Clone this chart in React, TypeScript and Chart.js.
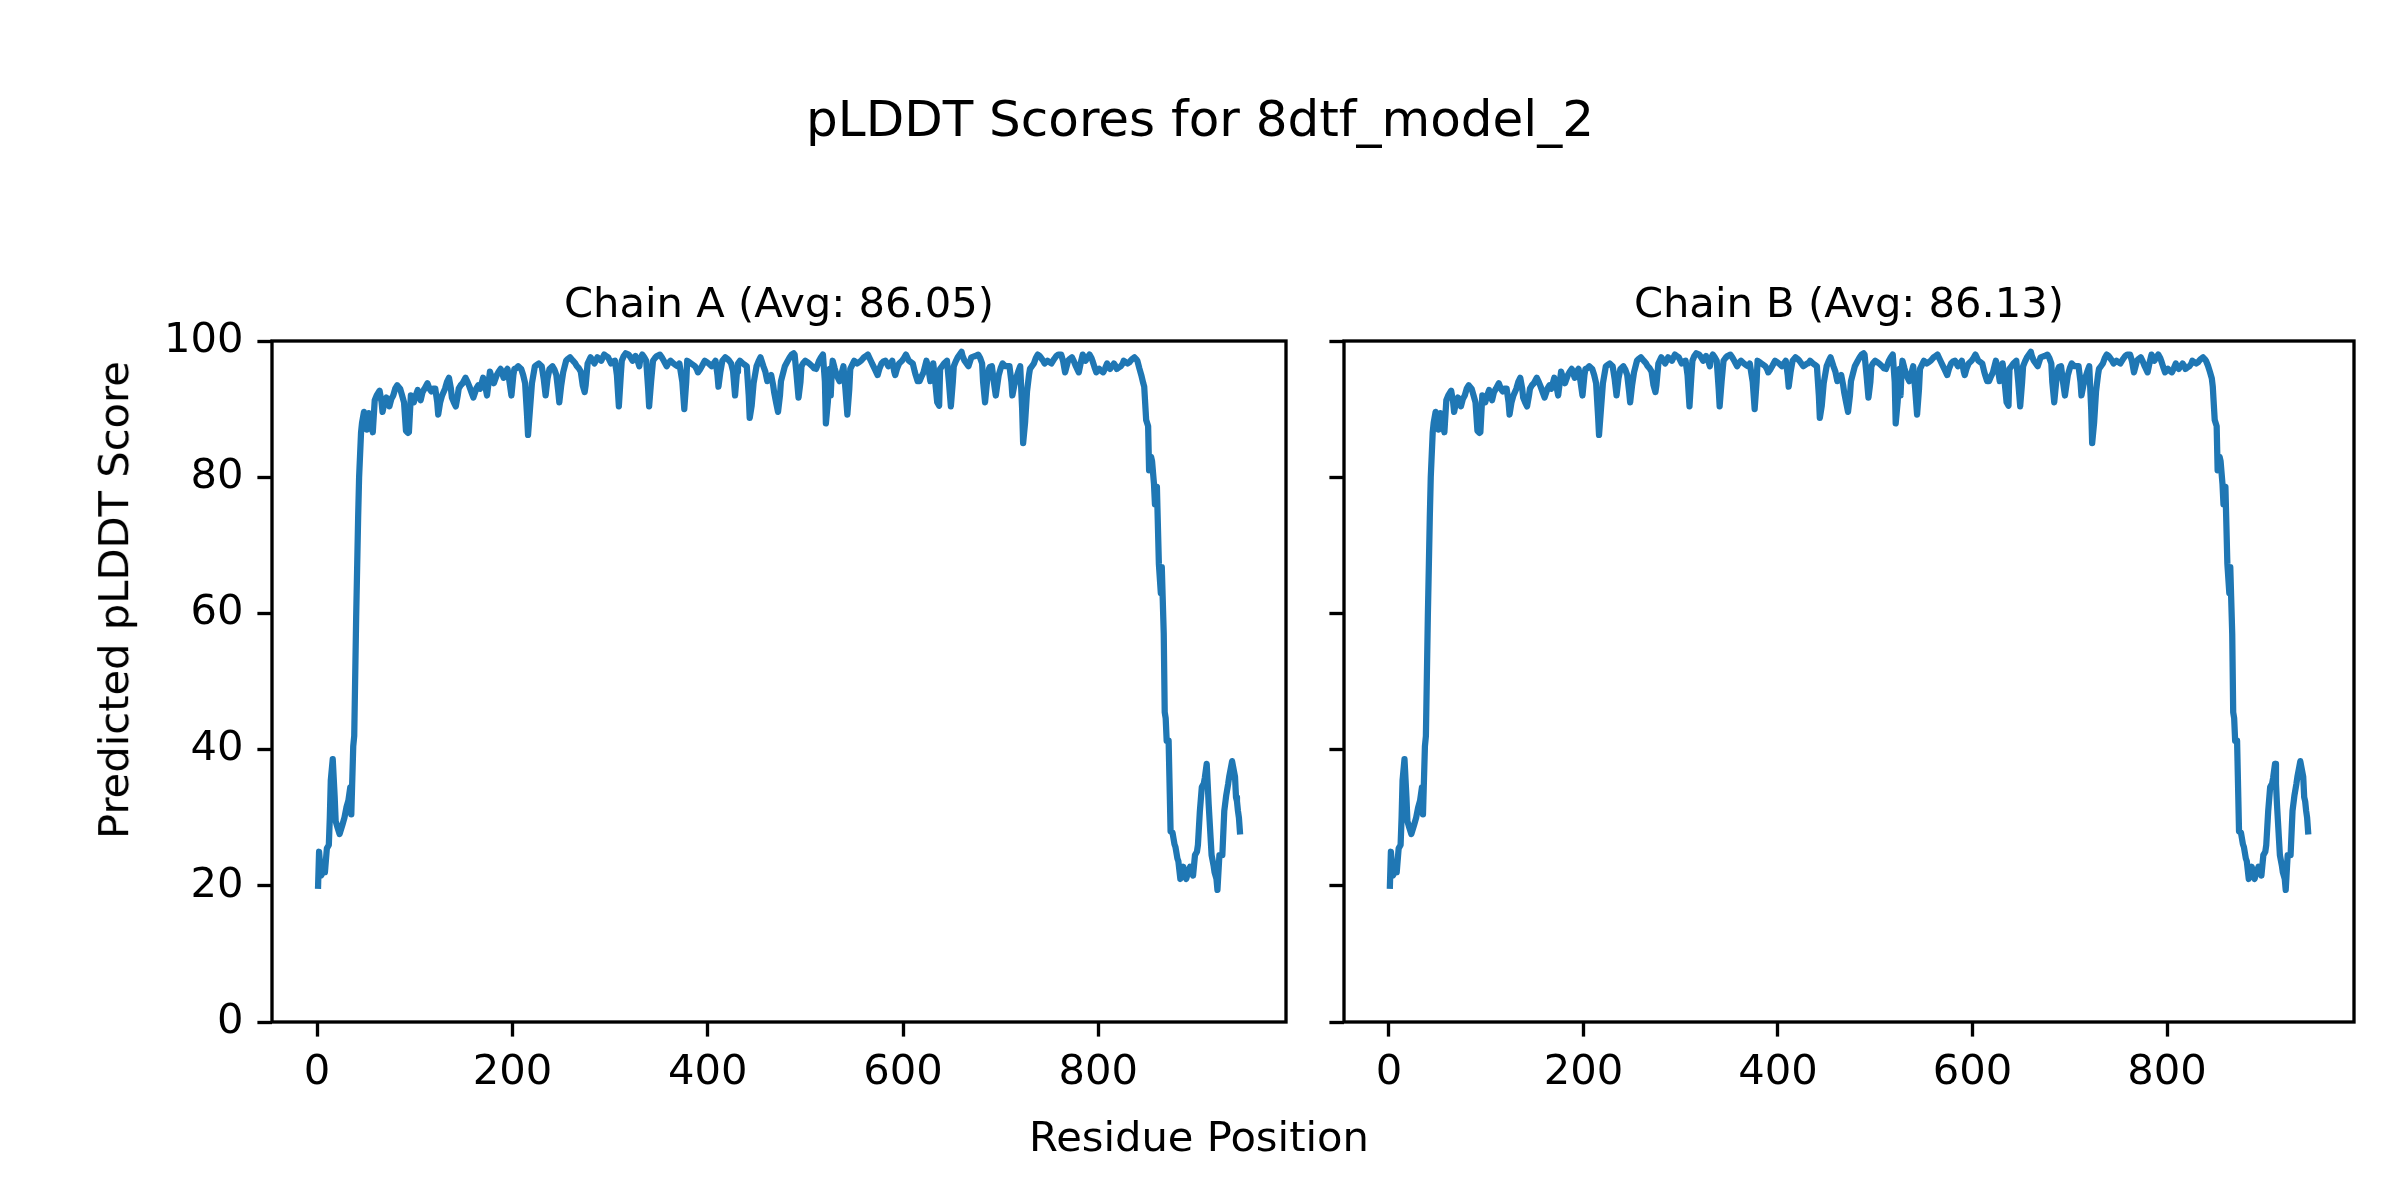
import React, { useEffect, useRef } from 'react';
import { Chart, registerables } from 'chart.js';

Chart.register(...registerables);

const figureTitle = 'pLDDT Scores for 8dtf_model_2';
const chainTitles = ['Chain A (Avg: 86.05)', 'Chain B (Avg: 86.13)'];
const xAxisLabel = 'Residue Position';
const yAxisLabel = 'Predicted pLDDT Score';
const xTickValues = [0, 200, 400, 600, 800];
const yTickValues = [0, 20, 40, 60, 80, 100];

const residuePositions = [
  1, 2, 4, 6, 8, 10, 12, 13, 14, 16,
  18, 19, 21, 23, 26, 28, 30, 32, 34, 35,
  37, 38, 40, 42, 43, 45, 46, 48, 50, 51,
  53, 55, 57, 59, 61, 64, 66, 67, 69, 71,
  74, 76, 78, 80, 82, 85, 87, 89, 91, 93,
  94, 96, 99, 101, 103, 106, 108, 110, 113, 115,
  117, 119, 121, 123, 124, 126, 128, 131, 133, 135,
  137, 138, 140, 142, 144, 145, 147, 149, 152, 154,
  156, 158, 160, 163, 165, 167, 170, 172, 174, 177,
  179, 181, 184, 186, 188, 191, 193, 195, 197, 199,
  201, 202, 204, 206, 209, 211, 213, 215, 216, 218,
  220, 223, 225, 227, 230, 232, 234, 236, 238, 241,
  243, 245, 247, 248, 250, 252, 255, 257, 259, 262,
  264, 266, 268, 270, 272, 274, 275, 277, 280, 282,
  284, 287, 289, 291, 294, 296, 298, 301, 303, 305,
  307, 309, 311, 312, 314, 316, 319, 321, 323, 326,
  328, 330, 331, 333, 335, 337, 339, 340, 342, 344,
  346, 348, 351, 353, 355, 358, 360, 362, 365, 367,
  369, 371, 374, 376, 378, 379, 381, 383, 387, 389,
  390, 392, 394, 397, 399, 401, 404, 406, 408, 410,
  411, 413, 415, 418, 420, 422, 424, 426, 428, 430,
  431, 433, 436, 438, 440, 442, 443, 445, 447, 450,
  452, 454, 457, 459, 461, 463, 465, 467, 468, 470,
  472, 474, 475, 477, 479, 482, 484, 486, 488, 489,
  491, 493, 495, 496, 498, 500, 502, 504, 507, 509,
  511, 514, 516, 518, 520, 521, 523, 525, 526, 527,
  528, 530, 532, 535, 537, 539, 541, 543, 545, 546,
  548, 550, 553, 555, 557, 560, 562, 564, 567, 569,
  571, 574, 576, 578, 580, 582, 585, 587, 589, 591,
  592, 594, 596, 599, 601, 603, 606, 608, 610, 612,
  613, 615, 617, 619, 621, 624, 626, 628, 630, 631,
  633, 635, 637, 638, 640, 642, 645, 647, 649, 651,
  652, 654, 656, 658, 660, 661, 663, 665, 667, 670,
  672, 674, 677, 679, 681, 682, 684, 686, 688, 689,
  691, 693, 695, 697, 698, 700, 702, 705, 707, 709,
  711, 712, 714, 716, 718, 720, 722, 723, 725, 727,
  729, 730, 732, 734, 736, 738, 740, 741, 743, 745,
  748, 750, 752, 755, 757, 759, 762, 764, 766, 768,
  769, 771, 773, 775, 777, 780, 782, 784, 786, 787,
  789, 791, 793, 794, 796, 798, 801, 803, 805, 807,
  809, 810, 812, 814, 816, 818, 819, 821, 823, 825,
  826, 828, 830, 832, 833, 835, 837, 839, 840, 842,
  844, 846, 847, 849, 851, 852, 854, 855, 857, 858,
  860, 862, 864, 865, 867, 868, 869, 870, 872, 874,
  876, 878, 879, 881, 882, 884, 886, 887, 889, 890,
  892, 894, 896, 897, 899, 901, 902, 904, 906, 908,
  909, 911, 912, 913, 915, 916, 918, 919, 921, 922,
  924, 926, 927, 929, 931, 933, 934, 936, 937, 938,
  940, 941, 942, 943, 944, 945,
];

const chainAScores = [
  20, 25, 21.5, 22, 22, 25.5, 26, 30, 35.5, 38.6,
  33, 29.5, 28.5, 27.6, 29, 30, 31.5, 32.5, 34.5, 30.5,
  40.5, 42, 59.5, 74, 80, 86.6, 88, 89.6, 88.5, 87,
  89.4, 88.5, 86.6, 91.3, 92, 92.7, 91, 89.6, 91, 91.7,
  90.4, 91.5, 92, 93, 93.5, 93, 92, 91, 86.8, 86.5,
  86.6, 92, 91, 92, 92.8, 91.3, 92.5, 93, 93.8, 93,
  92.6, 93, 93, 91, 89.2, 91, 92, 93, 94, 94.6,
  93, 91.7, 91, 90.4, 92, 93, 93.5, 93.8, 94.6, 94,
  93.3, 92.5, 91.7, 93, 93.5, 93, 94.6, 93.5, 92, 95.5,
  94.5, 93.8, 95, 95.5, 95.9, 94.6, 95.5, 95.9, 94, 92,
  95, 95.9, 96, 96.3, 95.9, 95, 93.8, 89, 86.2, 90,
  93.8, 96.3, 96.5, 96.7, 96.3, 94.5, 92, 94.5, 95.9, 96.3,
  95.8, 95, 92.5, 91, 93.5, 95.4, 97.1, 97.4, 97.6, 97.1,
  96.8, 96.3, 96, 95.5, 93.5, 92.5, 93.5, 96.7, 97.6, 97.2,
  96.7, 97.6, 97.4, 97.1, 98, 97.8, 97.6, 96.7, 97, 97.1,
  95, 90.4, 95, 97.1, 97.8, 98.2, 98, 97.6, 97.1, 97.8,
  97.2, 96.3, 97.4, 98, 97.6, 97.1, 93, 90.4, 94, 97.1,
  97.5, 97.8, 98, 97.6, 97.1, 96.3, 96.8, 97.1, 96.7, 96.5,
  96.3, 96.7, 94, 90, 94, 97.1, 96.9, 96.7, 96.3, 95.8,
  95.4, 95.8, 96.3, 97.1, 96.9, 96.7, 96.3, 96.7, 97.1, 95,
  93.3, 95.5, 97.1, 97.6, 97.4, 97.1, 96.7, 95.5, 92, 95.5,
  96.7, 97.1, 96.7, 96.5, 96.3, 92, 88.7, 90.5, 93.8, 96.3,
  97, 97.6, 96.3, 95.5, 94.1, 94.5, 95, 93.5, 92.5, 91,
  89.6, 92, 94.1, 95.2, 96.3, 97.1, 97.6, 98, 98.2, 98,
  95, 91.7, 94, 96.3, 96.8, 97.1, 96.9, 96.7, 96.3, 96,
  95.9, 97.1, 97.6, 98, 94, 87.9, 91, 95.9, 92, 95.5,
  97.1, 96, 95, 94.1, 95.2, 96.3, 93, 89.2, 93, 95.9,
  96.5, 97.1, 96.7, 96.9, 97.1, 97.6, 97.8, 98, 97.1, 96.5,
  95.9, 95, 96, 96.7, 97, 97.1, 96.3, 96.7, 97.1, 95.5,
  95, 96, 96.7, 97.1, 97.5, 98, 97.1, 96.9, 96.7, 95.5,
  95, 94.1, 94.1, 94.8, 95.4, 97.1, 96, 94.1, 95.5, 96.7,
  94, 91, 90.5, 95.9, 96.3, 96.7, 97.1, 94, 90.4, 94,
  96.3, 97, 97.6, 98, 98.4, 97.8, 97.1, 96.7, 96.3, 97.6,
  97.7, 97.8, 98, 97.5, 96.7, 94, 91, 94, 95.9, 96.2,
  96.3, 94, 92, 94, 95, 96, 96.7, 96.3, 96.3, 96.3,
  94, 92, 93.5, 94.6, 95.5, 96.3, 90, 85, 88, 92.6,
  95, 95.9, 96.3, 96.7, 97.5, 98, 97.8, 97.6, 97.2, 96.7,
  97.1, 96.9, 96.7, 97.4, 97.8, 98, 98, 97, 95.4, 96.5,
  97.1, 97.4, 97.6, 97, 96.3, 95.4, 96.8, 98, 97.5, 97.1,
  97.6, 98, 97.5, 97.1, 96.2, 95.4, 95.9, 95.6, 95.4, 96,
  96.7, 96.3, 95.9, 96.3, 96.7, 96.3, 95.9, 96.1, 96.3, 96.7,
  97.1, 96.9, 96.7, 96.9, 97.1, 97.4, 97.6, 97.3, 97.1, 96,
  95, 93.8, 93.3, 88.4, 87.5, 81, 83, 82.4, 79, 76,
  78.6, 67.3, 63, 66.8, 57, 45.5, 44.6, 41.3, 41.3, 28,
  27.8, 26.1, 25.7, 24, 23.6, 21, 22, 22.8, 21.5, 21,
  22, 22.8, 22, 21.5, 24.5, 25, 26, 31, 34.5, 35,
  35.8, 37.9, 35, 32, 27, 24.5, 23, 22, 21, 19.4,
  24.5, 24.5, 24.5, 31, 33.3, 35, 36, 37.5, 38.3, 37.5,
  36, 33, 32.4, 31, 30, 28,
];

const chainBScores = [
  20, 25, 21.5, 22, 22, 25.5, 26, 30, 35.5, 38.6,
  33, 29.5, 28.5, 27.6, 29, 30, 31.5, 32.5, 34.5, 30.5,
  40.5, 42, 59.5, 74, 80, 86.6, 88, 89.6, 88.5, 87,
  89.4, 88.5, 86.6, 91.3, 92, 92.7, 91, 89.6, 91, 91.7,
  90.4, 91.5, 92, 93, 93.5, 93, 92, 91, 86.8, 86.5,
  86.6, 92, 91, 92, 92.8, 91.3, 92.5, 93, 93.8, 93,
  92.6, 93, 93, 91, 89.2, 91, 92, 93, 94, 94.6,
  93, 91.7, 91, 90.4, 92, 93, 93.5, 93.8, 94.6, 94,
  93.3, 92.5, 91.7, 93, 93.5, 93, 94.6, 93.5, 92, 95.5,
  94.5, 93.8, 95, 95.5, 95.9, 94.6, 95.5, 95.9, 94, 92,
  95, 95.9, 96, 96.3, 95.9, 95, 93.8, 89, 86.2, 90,
  93.8, 96.3, 96.5, 96.7, 96.3, 94.5, 92, 94.5, 95.9, 96.3,
  95.8, 95, 92.5, 91, 93.5, 95.4, 97.1, 97.4, 97.6, 97.1,
  96.8, 96.3, 96, 95.5, 93.5, 92.5, 93.5, 96.7, 97.6, 97.2,
  96.7, 97.6, 97.4, 97.1, 98, 97.8, 97.6, 96.7, 97, 97.1,
  95, 90.4, 95, 97.1, 97.8, 98.2, 98, 97.6, 97.1, 97.8,
  97.2, 96.3, 97.4, 98, 97.6, 97.1, 93, 90.4, 94, 97.1,
  97.5, 97.8, 98, 97.6, 97.1, 96.3, 96.8, 97.1, 96.7, 96.5,
  96.3, 96.7, 94, 90, 94, 97.1, 96.9, 96.7, 96.3, 95.8,
  95.4, 95.8, 96.3, 97.1, 96.9, 96.7, 96.3, 96.7, 97.1, 95,
  93.3, 95.5, 97.1, 97.6, 97.4, 97.1, 96.7, 96.3, 96.5, 96.7,
  96.7, 97.1, 96.7, 96.5, 96.3, 92, 88.7, 90.5, 93.8, 96.3,
  97, 97.6, 96.3, 95.5, 94.1, 94.5, 95, 93.5, 92.5, 91,
  89.6, 92, 94.1, 95.2, 96.3, 97.1, 97.6, 98, 98.2, 98,
  95, 91.7, 94, 96.3, 96.8, 97.1, 96.9, 96.7, 96.3, 96,
  95.9, 97.1, 97.6, 98, 94, 87.9, 91, 95.9, 92, 95.5,
  97.1, 96, 95, 94.1, 95.2, 96.3, 93, 89.2, 93, 95.9,
  96.5, 97.1, 96.7, 96.9, 97.1, 97.6, 97.8, 98, 97.1, 96.5,
  95.9, 95, 96, 96.7, 97, 97.1, 96.3, 96.7, 97.1, 95.5,
  95, 96, 96.7, 97.1, 97.5, 98, 97.1, 96.9, 96.7, 95.5,
  95, 94.1, 94.1, 94.8, 95.4, 97.1, 96, 94.1, 95.5, 96.7,
  94, 91, 90.5, 95.9, 96.3, 96.7, 97.1, 94, 90.4, 94,
  96.3, 97, 97.6, 98, 98.4, 97.8, 97.1, 96.7, 96.3, 97.6,
  97.7, 97.8, 98, 97.5, 96.7, 94, 91, 94, 95.9, 96.2,
  96.3, 94, 92, 94, 95, 96, 96.7, 96.3, 96.3, 96.3,
  94, 92, 93.5, 94.6, 95.5, 96.3, 90, 85, 88, 92.6,
  95, 95.9, 96.3, 96.7, 97.5, 98, 97.8, 97.6, 97.2, 96.7,
  97.1, 96.9, 96.7, 97.4, 97.8, 98, 98, 97, 95.4, 96.5,
  97.1, 97.4, 97.6, 97, 96.3, 95.4, 96.8, 98, 97.5, 97.1,
  97.6, 98, 97.5, 97.1, 96.2, 95.4, 95.9, 95.6, 95.4, 96,
  96.7, 96.3, 95.9, 96.3, 96.7, 96.3, 95.9, 96.1, 96.3, 96.7,
  97.1, 96.9, 96.7, 96.9, 97.1, 97.4, 97.6, 97.3, 97.1, 96.4,
  95.5, 94.5, 93.3, 88.4, 87.5, 81, 83, 82.4, 79, 76,
  78.6, 67.3, 63, 66.8, 57, 45.5, 44.6, 41.3, 41.3, 28,
  27.8, 26.1, 25.7, 24, 23.6, 21, 22, 22.8, 21.5, 21,
  22, 22.8, 22, 21.5, 24.5, 25, 26, 31, 34.5, 35,
  35.8, 37.9, 35, 32, 27, 24.5, 23, 22, 21, 19.4,
  24.5, 24.5, 24.5, 31, 33.3, 35, 36, 37.5, 38.3, 37.5,
  36, 33, 32.4, 31, 30, 28,
];

const FONT = 'DejaVu Sans';
const TICK_PX = 41.67;
const LINE_PX = 3.33;
const TICK_LEN = 14.6;

const framePlugin = {
  id: 'axesFrame',
  afterDraw(chart: any) {
    const { ctx, chartArea: a } = chart;
    ctx.save();
    ctx.strokeStyle = '#000000';
    ctx.lineWidth = LINE_PX;
    ctx.lineJoin = 'miter';
    ctx.strokeRect(a.left, a.top, a.right - a.left, a.bottom - a.top);
    ctx.restore();
  },
};

function buildConfig(scores: number[], showYLabels: boolean, yAxisWidth: number, rightPad: number) {
  const first = residuePositions[0];
  const last = residuePositions[residuePositions.length - 1];
  const margin = (last - first) * 0.05;
  return {
    type: 'line' as const,
    data: {
      datasets: [
        {
          data: residuePositions.map((x, i) => ({ x, y: scores[i] })),
          borderColor: '#1f77b4',
          borderWidth: 6.25,
          pointRadius: 0,
          tension: 0,
          fill: false,
          borderJoinStyle: 'round' as const,
          borderCapStyle: 'square' as const,
        },
      ],
    },
    options: {
      animation: false as const,
      responsive: false,
      maintainAspectRatio: false,
      devicePixelRatio: 1,
      layout: { padding: { left: 0, top: 341, right: rightPad, bottom: 58 } },
      plugins: {
        legend: { display: false },
        tooltip: { enabled: false },
        title: { display: false },
      },
      scales: {
        x: {
          type: 'linear' as const,
          min: first - margin,
          max: last + margin,
          border: { display: false },
          grid: {
            drawOnChartArea: false,
            drawTicks: true,
            tickLength: TICK_LEN,
            tickWidth: LINE_PX,
            tickColor: '#000000',
          },
          ticks: {
            color: '#000000',
            font: { family: FONT, size: TICK_PX },
            padding: 12,
            maxRotation: 0,
            autoSkip: false,
          },
          afterBuildTicks: (scale: any) => {
            scale.ticks = xTickValues.map((v) => ({ value: v }));
          },
          afterFit: (scale: any) => {
            scale.height = 120;
          },
        },
        y: {
          type: 'linear' as const,
          min: 0,
          max: 100,
          border: { display: false },
          grid: {
            drawOnChartArea: false,
            drawTicks: true,
            tickLength: TICK_LEN,
            tickWidth: LINE_PX,
            tickColor: '#000000',
          },
          ticks: {
            display: showYLabels,
            color: '#000000',
            font: { family: FONT, size: TICK_PX },
            padding: 14,
          },
          afterBuildTicks: (scale: any) => {
            scale.ticks = yTickValues.map((v) => ({ value: v }));
          },
          afterFit: (scale: any) => {
            scale.width = yAxisWidth;
          },
        },
      },
    },
    plugins: [framePlugin],
  };
}

function Panel(props: { scores: number[]; showYLabels: boolean; left: number; width: number; yAxisWidth: number; rightPad: number }) {
  const ref = useRef<HTMLCanvasElement | null>(null);
  useEffect(() => {
    if (!ref.current) return;
    const chart = new Chart(ref.current, buildConfig(props.scores, props.showYLabels, props.yAxisWidth, props.rightPad) as any);
    return () => chart.destroy();
  }, []);
  return (
    <canvas
      ref={ref}
      width={props.width}
      height={1200}
      style={{ position: 'absolute', left: props.left, top: 0, width: props.width, height: 1200 }}
    />
  );
}

const textBase: React.CSSProperties = {
  position: 'absolute',
  fontFamily: FONT,
  color: '#000000',
  whiteSpace: 'nowrap',
  lineHeight: 1,
};

export default function App() {
  useEffect(() => {
    document.body.style.margin = '0';
  }, []);
  return (
    <div style={{ position: 'absolute', left: 0, top: 0, width: 2400, height: 1200, background: '#ffffff', overflow: 'hidden' }}>
      <Panel scores={chainAScores} showYLabels={true} left={0} width={1320} yAxisWidth={272} rightPad={34} />
      <Panel scores={chainBScores} showYLabels={false} left={1320} width={1080} yAxisWidth={24} rightPad={46} />
      <div style={{ ...textBase, fontSize: 50, left: 1200, top: 119, transform: 'translate(-50%, -50%)' }}>{figureTitle}</div>
      <div style={{ ...textBase, fontSize: TICK_PX, left: 779, top: 303, transform: 'translate(-50%, -50%)' }}>{chainTitles[0]}</div>
      <div style={{ ...textBase, fontSize: TICK_PX, left: 1849, top: 303, transform: 'translate(-50%, -50%)' }}>{chainTitles[1]}</div>
      <div style={{ ...textBase, fontSize: TICK_PX, left: 1199, top: 1137, transform: 'translate(-50%, -50%)' }}>{xAxisLabel}</div>
      <div style={{ ...textBase, fontSize: TICK_PX, left: 114, top: 600, transform: 'translate(-50%, -50%) rotate(-90deg)' }}>{yAxisLabel}</div>
    </div>
  );
}
